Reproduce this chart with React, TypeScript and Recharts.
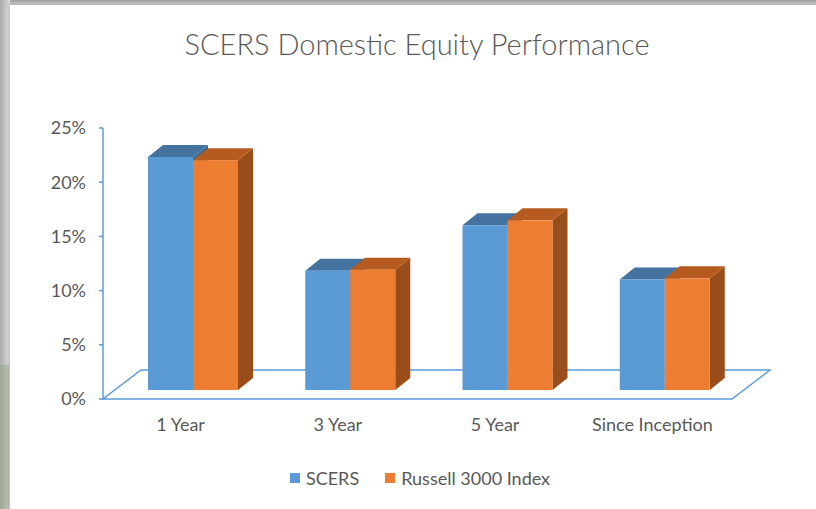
import React from 'react'
import { BarChart, Bar, XAxis, YAxis, Legend, Customized } from 'recharts'

// returns by period
const categories = ['1 Year', '3 Year', '5 Year', 'Since Inception']
const scersReturns = [0.215, 0.11, 0.152, 0.102]
const russellReturns = [0.212, 0.111, 0.1565, 0.103]
const yTicks = [0, 0.05, 0.1, 0.15, 0.2, 0.25]
const seriesNames = ['SCERS', 'Russell 3000 Index']

const data = categories.map((name, i) => ({
  name,
  scers: scersReturns[i],
  russell: russellReturns[i],
}))

const FONT = 'Lato, "Open Sans", sans-serif'
const TEXT = '#595959'
const AXIS = '#5b9bd5'

const W = 816
const H = 509
const margin = { top: 128, right: 84, bottom: 80, left: 42 }
const Y_AXIS_W = 61
const X_AXIS_H = 30

// fake 3d offsets
const SHIFT = { x: 11, y: 9 } // bars sit a little behind the front plane
const DEPTH = { x: 15, y: 12 } // bar depth
const FLOOR = { x: 38, y: 29 } // floor depth

const Bar3D = (props: any) => {
  const { x, y, width, height, front, top, side } = props
  if (width == null || height == null) return null
  const fx = x + SHIFT.x
  const fy = y - SHIFT.y
  const fb = y + height - SHIFT.y
  const topFace = `${fx},${fy} ${fx + width},${fy} ${fx + width + DEPTH.x},${fy - DEPTH.y} ${fx + DEPTH.x},${fy - DEPTH.y}`
  const sideFace = `${fx + width},${fy} ${fx + width + DEPTH.x},${fy - DEPTH.y} ${fx + width + DEPTH.x},${fb - DEPTH.y} ${fx + width},${fb}`
  return (
    <g>
      <polygon points={sideFace} fill={side} />
      <polygon points={topFace} fill={top} />
      <rect x={fx} y={fy} width={width} height={fb - fy} fill={front} />
    </g>
  )
}

const Decor = () => {
  const left = margin.left + Y_AXIS_W
  const right = W - margin.right
  const bottom = H - margin.bottom - X_AXIS_H
  const floor = `${left},${bottom} ${right},${bottom} ${right + FLOOR.x},${bottom - FLOOR.y} ${left + FLOOR.x},${bottom - FLOOR.y}`
  return (
    <g>
      <text x={417} y={55} textAnchor="middle" fill={TEXT} fontSize={29} fontWeight={300} fontFamily={FONT}>
        SCERS Domestic Equity Performance
      </text>
      <polygon points={floor} fill="none" stroke={AXIS} strokeWidth={1.5} />
    </g>
  )
}

const CategoryTick = ({ x, y, payload }: any) => (
  <text x={x - 1} y={y + 32} textAnchor="middle" fill={TEXT} fontSize={18} fontFamily={FONT}>
    {payload.value}
  </text>
)

const renderLegend = ({ payload }: any) => {
  const items = [...(payload || [])].sort(
    (a: any, b: any) => seriesNames.indexOf(a.value) - seriesNames.indexOf(b.value)
  )
  return (
    <div
      style={{
        display: 'flex',
        justifyContent: 'center',
        gap: 26,
        fontFamily: FONT,
        fontSize: 18,
        color: TEXT,
        lineHeight: '24px',
      }}
    >
      {items.map((e: any) => (
        <span key={e.value} style={{ display: 'flex', alignItems: 'center' }}>
          <span style={{ width: 10, height: 10, background: e.color, marginRight: 6, display: 'inline-block' }} />
          {e.value}
        </span>
      ))}
    </div>
  )
}

export default function App() {
  return (
    <div style={{ position: 'absolute', left: 0, top: 0, width: W, height: H, overflow: 'hidden', background: '#ffffff' }}>
      <div style={{ position: 'absolute', left: 0, top: 0, width: W, height: 5, background: 'linear-gradient(#9a9a9a, #d4d4d4)' }} />
      <div style={{ position: 'absolute', left: 0, top: 0, width: 10, height: H, background: 'linear-gradient(to right, #a9a9a9, #dcdcdc)' }} />
      <div style={{ position: 'absolute', left: 0, top: 365, width: 9, height: 144, background: 'linear-gradient(to right, #9ea796, #b7bfae)' }} />
      <div style={{ position: 'absolute', left: 10, top: 5, width: W - 10, height: H - 5, background: '#ffffff', boxShadow: '-1px -1px 2px rgba(0,0,0,0.15)' }} />
      <div style={{ position: 'absolute', left: 0, top: 0 }}>
        <BarChart width={W} height={H} data={data} margin={margin} barGap={0} barSize={45}>
          <Customized component={Decor} />
          <XAxis
            dataKey="name"
            height={X_AXIS_H}
            axisLine={false}
            tickLine={false}
            tickSize={0}
            tickMargin={0}
            tick={<CategoryTick />}
            interval={0}
          />
          <YAxis
            width={Y_AXIS_W}
            domain={[0, 0.25]}
            ticks={yTicks}
            tickFormatter={(v: number) => `${Math.round(v * 100)}%`}
            axisLine={{ stroke: AXIS, strokeWidth: 1.5 }}
            tickLine={{ stroke: AXIS, strokeWidth: 1.5 }}
            tickSize={4}
            tickMargin={13}
            tick={{ fill: TEXT, fontSize: 18, fontFamily: FONT }}
          />
          <Legend
            verticalAlign="middle"
            align="center"
            wrapperStyle={{ top: 466, left: 0, width: 840 }}
            content={renderLegend}
          />
          <Bar
            dataKey="scers"
            name={seriesNames[0]}
            fill="#5b9bd5"
            isAnimationActive={false}
            shape={(p: any) => <Bar3D {...p} front="#5b9bd5" top="#44739f" side="#3e6a94" />}
          />
          <Bar
            dataKey="russell"
            name={seriesNames[1]}
            fill="#ed7d31"
            isAnimationActive={false}
            shape={(p: any) => <Bar3D {...p} front="#ed7d31" top="#b65b20" side="#994d1b" />}
          />
        </BarChart>
      </div>
    </div>
  )
}
